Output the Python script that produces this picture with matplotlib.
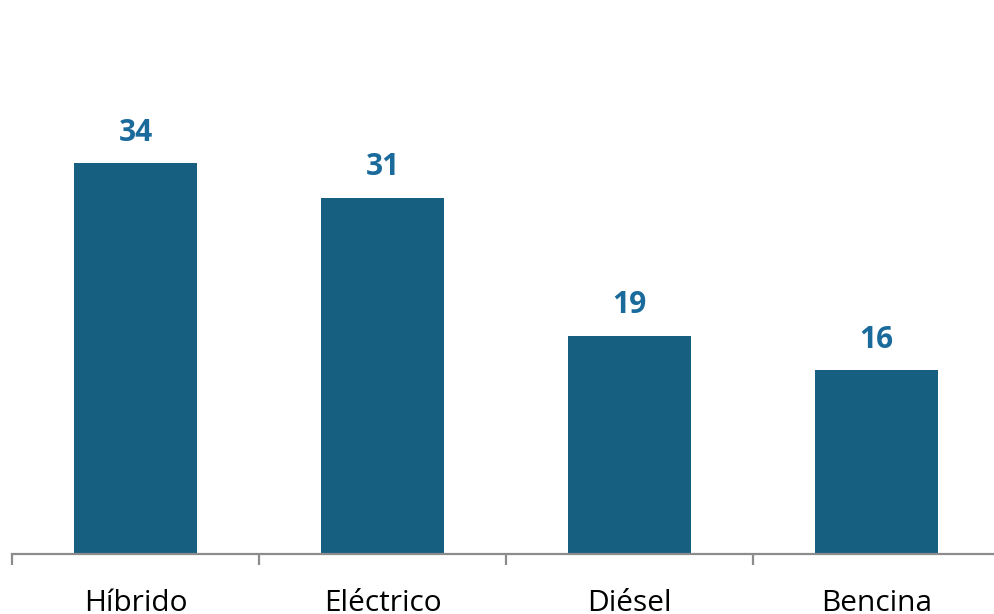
import matplotlib.pyplot as plt
import numpy as np

categories = ['Híbrido', 'Eléctrico', 'Diésel', 'Bencina']
values = [34, 31, 19, 16]

bar_color = '#175f80'
label_color = '#1a6a9c'
axis_color = '#8c8c8c'

plt.rcParams['font.family'] = ['Open Sans', 'DejaVu Sans']

fig = plt.figure(figsize=(9.95, 6.14), dpi=100)
# axis spans a bit past the right edge, like the original
ax = fig.add_axes([12 / 995, 60 / 614, 988 / 995, 554 / 614])

x = np.arange(len(categories))
bars = ax.bar(x, values, width=0.5, color=bar_color)

for xi, v in zip(x, values):
    ax.annotate(str(v), (xi, v), xytext=(0, 22), textcoords='offset points',
                ha='center', va='center', fontsize=21.5, fontweight='bold',
                color=label_color)

ax.set_xlim(-0.5, len(categories) - 0.5)
ax.set_ylim(0, 48.2)

for s in ['top', 'right', 'left']:
    ax.spines[s].set_visible(False)
ax.spines['bottom'].set_color(axis_color)
ax.spines['bottom'].set_linewidth(1.6)

ax.set_yticks([])
ax.set_xticks(x)
ax.set_xticklabels(categories, fontsize=21.5, color='black')
ax.tick_params(axis='x', which='major', length=0, pad=25)
ax.set_xticks(np.arange(-0.5, len(categories)), minor=True)
ax.tick_params(axis='x', which='minor', length=8, width=1.6, color=axis_color)

fig.savefig('out.png', dpi=100)
